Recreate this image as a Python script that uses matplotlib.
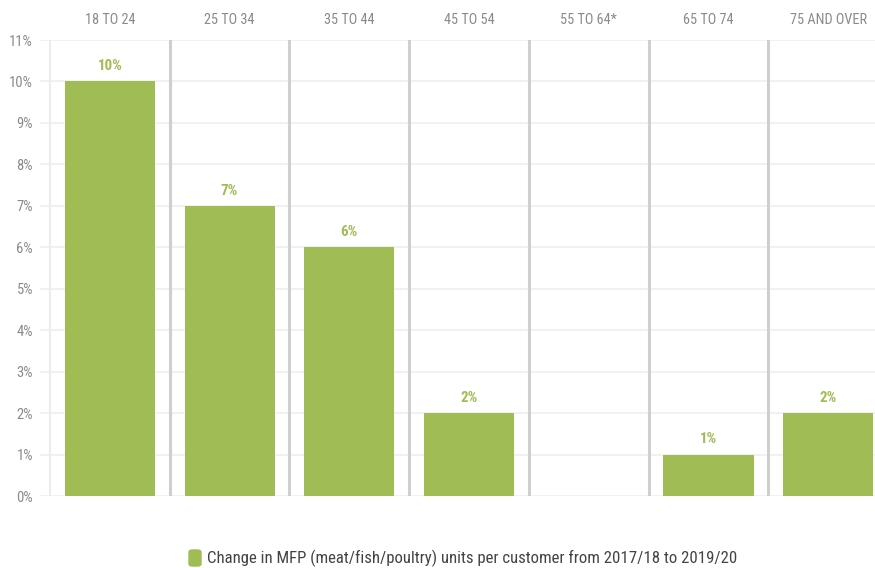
import matplotlib.pyplot as plt
from matplotlib import font_manager
from matplotlib.patches import FancyBboxPatch

# data
age_groups = ["18 TO 24", "25 TO 34", "35 TO 44", "45 TO 54", "55 TO 64*", "65 TO 74", "75 AND OVER"]
mfp_change = [10, 7, 6, 2, None, 1, 2]
y_ticks = list(range(0, 12))

names = {f.name for f in font_manager.fontManager.ttflist}
narrow = "Roboto"
for cand in ["Roboto Condensed", "Liberation Sans Narrow", "Open Sans Condensed"]:
    if cand in names:
        narrow = cand
        break
plt.rcParams["font.family"] = [narrow, "DejaVu Sans"]

green = "#a0bc55"
grey_text = "#8a8a8a"

fig = plt.figure(figsize=(8.75, 5.68), dpi=100)
W, H = 875, 568
panel = 119.5
ax = fig.add_axes([40 / W, (H - 496) / H, (W - 40) / W, (496 - 40) / H])
ax.set_xlim(-0.5 - 10 / panel, 6.5 - 13 / panel)
ax.set_ylim(0, 11)

for y in y_ticks:
    ax.axhline(y, color="#efefef", lw=1.2, zorder=0)

# panel dividers
ax.axvline(-0.5, color="#ececec", lw=1.5, zorder=0)
for i in range(1, len(age_groups)):
    ax.axvline(i - 0.5, color="#cfcfcf", lw=2.2, zorder=1)

for i, v in enumerate(mfp_change):
    if v is None:
        continue
    ax.bar(i, v, width=90 / panel, color=green, zorder=2)
    ax.text(i, v + 0.2, f"{v}%", ha="center", va="bottom", fontsize=10.8,
            fontweight="bold", color=green)

for i, name in enumerate(age_groups):
    ax.text(i, 11 + 20 / 41.5, name, ha="center", va="center", fontsize=10.3,
            color=grey_text)

ax.set_yticks(y_ticks)
ax.set_yticklabels([f"{y}%" for y in y_ticks], fontsize=10.5, color=grey_text)
ax.tick_params(axis="y", length=0, pad=5)
ax.set_xticks([])
for s in ax.spines.values():
    s.set_visible(False)

# legend
fig.patches.append(FancyBboxPatch((189 / W, (H - 566) / H), 12 / W, 16 / H,
                                  boxstyle="round,pad=0,rounding_size=0.004",
                                  transform=fig.transFigure, color=green))
fig.text(207 / W, (H - 558) / H,
         "Change in MFP (meat/fish/poultry) units per customer from 2017/18 to 2019/20",
         ha="left", va="center", fontsize=12.1, color="#444444")

fig.savefig("out.png", dpi=100)
